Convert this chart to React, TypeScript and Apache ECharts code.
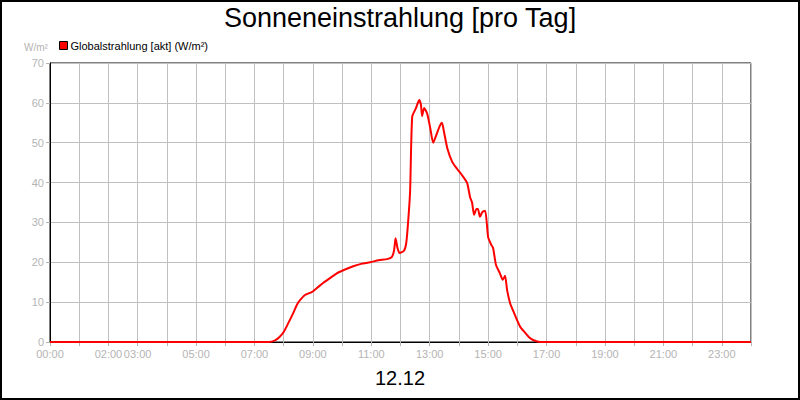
import React, { useEffect, useRef } from "react";
import * as echarts from "echarts";

const hours: number[] = [
  0, 7.5, 7.7, 7.85, 8.0, 8.15, 8.33, 8.45, 8.56, 8.73, 8.96, 9.15, 9.35, 9.6, 9.83,
  10.1, 10.38, 10.65, 10.96, 11.25, 11.54, 11.7, 11.78, 11.83, 11.9, 11.97, 12.12,
  12.2, 12.27, 12.33, 12.4, 12.53, 12.64, 12.7, 12.74, 12.81, 12.91, 13.01, 13.12,
  13.25, 13.35, 13.42, 13.49, 13.6, 13.77, 13.94, 14.1, 14.28, 14.38, 14.45, 14.52,
  14.6, 14.65, 14.72, 14.8, 14.9, 15.0, 15.1, 15.17, 15.27, 15.4, 15.5, 15.58, 15.65,
  15.75, 15.87, 15.99, 16.1, 16.27, 16.4, 16.54, 16.78, 24,
];
const values: number[] = [
  0, 0, 0.4, 1.2, 2.5, 4.6, 7.3, 9.3, 10.5, 11.8, 12.5, 13.6, 14.8, 16.1, 17.3,
  18.2, 19.0, 19.6, 20.0, 20.5, 20.8, 21.3, 23, 26, 23.5, 22.3, 22.9,
  25, 31, 38, 56.5, 58.7, 60.7, 59.5, 56.7, 58.7, 57.4, 54, 50,
  52.4, 54.3, 55, 52.7, 48.7, 45.2, 43.4, 41.9, 39.9, 36.4, 35, 31.9,
  33.4, 33.4, 31.4, 32.6, 32.9, 26.3, 24.5, 23.6, 19.3, 17.3, 15.6, 16.6, 13,
  9.8, 7.6, 5.5, 3.8, 2.3, 1.2, 0.5, 0, 0,
];
const xLabelHours: number[] = [0, 2, 3, 5, 7, 9, 11, 13, 15, 17, 19, 21, 23];
const seriesName = "Globalstrahlung [akt] (W/m²)";
const titleText = "Sonneneinstrahlung [pro Tag]";
const dateText = "12.12";
const unitText = "W/m²";

const FONT = "'Liberation Sans', Arial, sans-serif";

export default function App() {
  const ref = useRef<HTMLDivElement>(null);
  useEffect(() => {
    document.body.style.margin = "0";
    if (!ref.current) return;
    const chart = echarts.init(ref.current, undefined, { renderer: "svg" });
    const pad = (n: number) => (n < 10 ? "0" + n : "" + n);
    chart.setOption({
      animation: false,
      backgroundColor: "#fff",
      textStyle: { fontFamily: FONT },
      title: [
        {
          text: titleText,
          left: "center",
          top: 4,
          padding: 0,
          textStyle: { fontSize: 27, fontWeight: "normal", color: "#000", fontFamily: FONT },
        },
        {
          text: dateText,
          left: "center",
          top: 368,
          padding: 0,
          textStyle: { fontSize: 20, fontWeight: "normal", color: "#000", fontFamily: FONT },
        },
      ],
      legend: {
        left: 59,
        top: 40,
        padding: 0,
        icon: "rect",
        itemWidth: 8,
        itemHeight: 8,
        itemGap: 10,
        textStyle: { fontSize: 11, color: "#000", fontFamily: FONT, padding: [0, 0, 0, -2] },
        itemStyle: { borderColor: "#000", borderWidth: 1 },
        data: [seriesName],
      },
      graphic: [
        {
          type: "text",
          left: 24,
          top: 42,
          style: { text: unitText, fill: "#b4b4b4", font: "10px " + FONT },
        },
        {
          type: "rect",
          shape: { x: 1, y: 1, width: 798, height: 398 },
          style: { fill: "none", stroke: "#000", lineWidth: 2 },
          silent: true,
        },
      ],
      grid: {
        left: 50,
        right: 49,
        top: 63,
        bottom: 58,
        show: true,
        borderColor: "#000",
        borderWidth: 1,
        containLabel: false,
      },
      xAxis: {
        type: "value",
        min: 0,
        max: 24,
        interval: 1,
        axisLine: { lineStyle: { color: "#000", width: 1 } },
        axisTick: { show: true, length: 4, lineStyle: { color: "#b4b4b4" } },
        splitLine: { show: true, lineStyle: { color: "#c0c0c0", width: 1 } },
        axisLabel: {
          color: "#b4b4b4",
          fontSize: 11,
          fontFamily: FONT,
          margin: 6,
          formatter: (v: number) => (xLabelHours.indexOf(v) >= 0 ? pad(v) + ":00" : ""),
        },
      },
      yAxis: {
        type: "value",
        min: 0,
        max: 70,
        interval: 10,
        axisLine: { show: true, lineStyle: { color: "#000", width: 1 } },
        axisTick: { show: true, length: 4, lineStyle: { color: "#b4b4b4" } },
        splitLine: { show: true, lineStyle: { color: "#c0c0c0", width: 1 } },
        axisLabel: { color: "#b4b4b4", fontSize: 11, fontFamily: FONT, margin: 6 },
      },
      series: [
        {
          name: seriesName,
          type: "line",
          data: hours.map((h, i) => [h, values[i]]),
          showSymbol: false,
          symbol: "none",
          smooth: 0.2,
          lineStyle: { color: "#ff0000", width: 2 },
          itemStyle: { color: "#ff0000" },
        },
      ],
    });
    return () => chart.dispose();
  }, []);
  return <div ref={ref} style={{ width: 800, height: 400 }} />;
}
